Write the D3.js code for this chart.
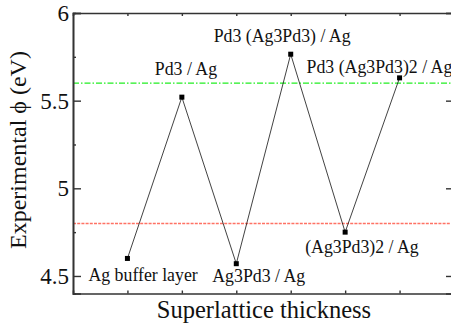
<!DOCTYPE html>
<html>
<head>
<meta charset="utf-8">
<script src="https://cdn.jsdelivr.net/npm/d3@7"></script>
<style>
  body { margin: 0; background: #fff; }
</style>
</head>
<body>
<div id="chart"></div>
<script>
// data
const samples = ["Ag buffer layer", "Pd3 / Ag", "Ag3Pd3 / Ag", "Pd3 (Ag3Pd3) / Ag", "(Ag3Pd3)2 / Ag", "Pd3 (Ag3Pd3)2 / Ag"];
const positions = [1, 2, 3, 4, 5, 6];
const phi = [4.60, 5.52, 4.57, 5.765, 4.75, 5.63];
const refLines = [5.6, 4.8]; // green, red
const yTicks = [4.5, 5, 5.5, 6];
const yMinor = [4.75, 5.25, 5.75];

const width = 451, height = 328;
const margin = { left: 73, top: 13, right: 454, bottom: 293.5 };
const serif = '"Liberation Serif", serif';

const svg = d3.select("#chart").append("svg")
  .attr("width", width).attr("height", height)
  .style("font-family", serif);

const x = d3.scaleLinear().domain([0, 7]).range([margin.left, margin.right]);
const y = d3.scaleLinear().domain([4.4, 6]).range([margin.bottom, margin.top]);

// reference lines
svg.append("line")
  .attr("x1", x(0)).attr("x2", x(7)).attr("y1", y(refLines[0])).attr("y2", y(refLines[0]))
  .attr("stroke", "#22ee22").attr("stroke-width", 1.2).attr("stroke-dasharray", "6,2,1.5,2");
svg.append("line")
  .attr("x1", x(0)).attr("x2", x(7)).attr("y1", y(refLines[1])).attr("y2", y(refLines[1]))
  .attr("stroke", "#ff7264").attr("stroke-width", 1.5).attr("stroke-dasharray", "3,1.2");

// axes (ticks inward)
const axisColor = "#333";
const axLeft = svg.append("g").attr("transform", `translate(${x(0)},0)`)
  .call(d3.axisRight(y).tickValues(yTicks).tickSize(8).tickFormat(""));
const axLeftMinor = svg.append("g").attr("transform", `translate(${x(0)},0)`)
  .call(d3.axisRight(y).tickValues(yMinor).tickSize(3).tickFormat(""));
const axRight = svg.append("g").attr("transform", `translate(${x(7)},0)`)
  .call(d3.axisLeft(y).tickValues(yTicks).tickSize(8).tickFormat(""));
const axRightMinor = svg.append("g").attr("transform", `translate(${x(7)},0)`)
  .call(d3.axisLeft(y).tickValues(yMinor).tickSize(3).tickFormat(""));
const axTop = svg.append("g").attr("transform", `translate(0,${y(6)})`)
  .call(d3.axisBottom(x).tickValues(positions).tickSize(3).tickFormat(""));
const axBottom = svg.append("g").attr("transform", `translate(0,${y(4.4)})`)
  .call(d3.axisTop(x).tickValues(positions).tickSize(3).tickFormat(""));

[axLeft, axLeftMinor, axRight, axRightMinor, axTop, axBottom].forEach(g => {
  g.select(".domain").attr("stroke", axisColor).attr("stroke-width", 1.6);
  g.selectAll(".tick line").attr("stroke", axisColor).attr("stroke-width", 1.4);
});

// y tick labels
svg.append("g").selectAll("text").data(yTicks).enter().append("text")
  .attr("x", x(0) - 4).attr("y", d => y(d) + 8)
  .attr("text-anchor", "end")
  .style("font-family", serif).style("font-size", "23px").attr("fill", "#111")
  .text(d => d);

// data line + markers
const line = d3.line().x(d => x(d[0])).y(d => y(d[1]));
const pts = positions.map((p, i) => [p, phi[i]]);
svg.append("path").datum(pts).attr("d", line)
  .attr("fill", "none").attr("stroke", "#111").attr("stroke-width", 0.8);
svg.append("g").selectAll("rect").data(pts).enter().append("rect")
  .attr("x", d => x(d[0]) - 2.5).attr("y", d => y(d[1]) - 2.5)
  .attr("width", 5).attr("height", 5).attr("fill", "#000");

// point labels
const labelPos = [
  { dx: -39, dy: 23 },
  { dx: -27, dy: -22 },
  { dx: -24, dy: 18 },
  { dx: -77, dy: -12.5 },
  { dx: -40, dy: 21 },
  { dx: -93, dy: -5 }
];
svg.append("g").selectAll("text").data(pts).enter().append("text")
  .attr("x", (d, i) => x(d[0]) + labelPos[i].dx)
  .attr("y", (d, i) => y(d[1]) + labelPos[i].dy)
  .style("font-family", serif).style("font-size", "17.8px").attr("fill", "#111")
  .text((d, i) => samples[i]);

// axis titles
svg.append("text").attr("x", 264).attr("y", 318)
  .attr("text-anchor", "middle")
  .style("font-family", serif).style("font-size", "24.5px").attr("fill", "#111")
  .text("Superlattice thickness");
svg.append("text")
  .attr("transform", `translate(26,${150}) rotate(-90)`)
  .attr("text-anchor", "middle")
  .style("font-family", serif).style("font-size", "24px").attr("fill", "#111")
  .text("Experimental \u03d5 (eV)");
</script>
</body>
</html>
